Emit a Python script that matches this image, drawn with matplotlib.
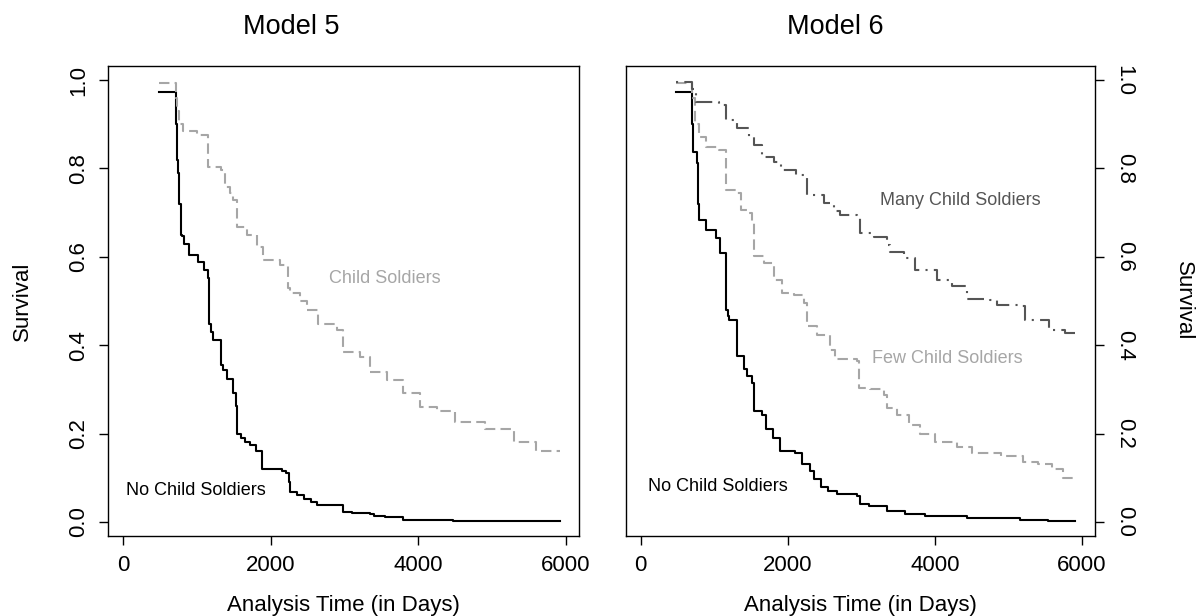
import matplotlib
matplotlib.use("Agg")
import matplotlib.pyplot as plt

plt.rcParams['font.family'] = ['Liberation Sans', 'DejaVu Sans']

# --- data (days, survival) ---
m5_none_t = [484, 714, 722, 740, 760, 785, 792, 823, 895, 1017, 1099, 1153, 1166, 1190,
             1210, 1320, 1356, 1402, 1483, 1528, 1535, 1600, 1650, 1720, 1800, 1880, 2150,
             2200, 2240, 2260, 2350, 2450, 2550, 2622, 2983, 3100, 3345, 3400, 3550, 3797,
             4100, 4475, 5040, 5921]
m5_none_s = [0.974, 0.90, 0.82, 0.79, 0.72, 0.65, 0.647, 0.629, 0.604, 0.589, 0.570, 0.551,
             0.449, 0.43, 0.411, 0.355, 0.344, 0.323, 0.291, 0.262, 0.20, 0.19, 0.18, 0.175,
             0.16, 0.12, 0.115, 0.11, 0.09, 0.068, 0.06, 0.052, 0.045, 0.038, 0.023, 0.021,
             0.017, 0.013, 0.010, 0.005, 0.004, 0.002, 0.001, 0.001]

m5_cs_t = [484, 714, 730, 750, 814, 1000, 1153, 1320, 1380, 1450, 1492, 1537, 1673, 1808,
           1898, 2125, 2237, 2260, 2400, 2487, 2644, 2894, 2983, 3210, 3345, 3571, 3797,
           4023, 4250, 4500, 4900, 5300, 5600, 5921]
m5_cs_s = [0.994, 0.96, 0.93, 0.90, 0.885, 0.876, 0.804, 0.797, 0.759, 0.745, 0.729, 0.668,
           0.650, 0.623, 0.593, 0.582, 0.53, 0.517, 0.50, 0.480, 0.449, 0.434, 0.385, 0.374,
           0.340, 0.321, 0.291, 0.261, 0.251, 0.225, 0.21, 0.18, 0.16, 0.16]

m6_none_t = [476, 702, 710, 761, 785, 792, 889, 1019, 1078, 1155, 1164, 1190, 1200, 1313,
             1403, 1450, 1517, 1540, 1653, 1700, 1800, 1900, 2100, 2200, 2300, 2354, 2450,
             2550, 2672, 2943, 2989, 3100, 3351, 3600, 3872, 4438, 5163, 5543, 5910]
m6_none_s = [0.974, 0.90, 0.838, 0.812, 0.72, 0.684, 0.661, 0.642, 0.608, 0.590, 0.480,
             0.465, 0.458, 0.375, 0.345, 0.33, 0.315, 0.251, 0.243, 0.21, 0.19, 0.16, 0.155,
             0.13, 0.115, 0.096, 0.08, 0.07, 0.063, 0.059, 0.040, 0.035, 0.025, 0.018, 0.014,
             0.008, 0.005, 0.002, 0.002]

m6_few_t = [476, 702, 740, 792, 883, 1065, 1155, 1160, 1313, 1359, 1449, 1517, 1540, 1676,
            1812, 1925, 2083, 2219, 2264, 2400, 2581, 2649, 2943, 2966, 3125, 3306, 3351,
            3487, 3650, 3800, 4000, 4300, 4500, 4900, 5200, 5400, 5600, 5750, 5910]
m6_few_s = [0.993, 0.96, 0.90, 0.872, 0.849, 0.842, 0.83, 0.751, 0.745, 0.706, 0.70, 0.676,
            0.601, 0.586, 0.548, 0.518, 0.514, 0.496, 0.443, 0.424, 0.390, 0.368, 0.364,
            0.304, 0.300, 0.288, 0.258, 0.243, 0.22, 0.20, 0.18, 0.17, 0.155, 0.15, 0.135,
            0.13, 0.12, 0.10, 0.095]

m6_many_t = [476, 702, 747, 1065, 1155, 1160, 1313, 1472, 1540, 1653, 1812, 1902, 2106, 2264,
             2490, 2626, 2717, 2943, 2989, 3170, 3351, 3397, 3578, 3737, 4031, 4235, 4438,
             4755, 4846, 5140, 5231, 5548, 5775, 5932]
m6_many_s = [0.995, 0.98, 0.951, 0.944, 0.932, 0.910, 0.891, 0.872, 0.853, 0.827, 0.815,
             0.797, 0.785, 0.740, 0.721, 0.703, 0.695, 0.691, 0.654, 0.646, 0.627, 0.612,
             0.597, 0.571, 0.548, 0.533, 0.505, 0.503, 0.492, 0.488, 0.458, 0.435, 0.428,
             0.428]

x_ticks = [0, 2000, 4000, 6000]
y_ticks = [0.0, 0.2, 0.4, 0.6, 0.8, 1.0]
y_labels = ["0.0", "0.2", "0.4", "0.6", "0.8", "1.0"]

BLACK = "black"
LIGHT = "#a6a6a6"
DARK = "#555555"
dashed = (0, (5, 2.5))
dotdash = (0, (1, 3, 8, 3))

fig = plt.figure(figsize=(11.96, 6.16), dpi=100)
W, H = 1196.0, 616.0
ax1 = fig.add_axes([108.3 / W, 1 - 536 / H, (579 - 108.3) / W, (536 - 66) / H])
ax2 = fig.add_axes([625.7 / W, 1 - 536 / H, (1095 - 625.7) / W, (536 - 66) / H])

for ax in (ax1, ax2):
    ax.set_xlim(-205, 6180)
    ax.set_ylim(-0.032, 1.032)
    ax.set_xticks(x_ticks)
    ax.set_yticks(y_ticks)
    ax.set_yticklabels(y_labels)
    ax.tick_params(direction='out', length=6.5, width=1, labelsize=16, pad=7, color='black')
    for s in ax.spines.values():
        s.set_color('black')
        s.set_linewidth(1.0)
    ax.set_xlabel("Analysis Time (in Days)", fontsize=16, labelpad=14)

# Model 5
ax1.step(m5_none_t, m5_none_s, where='post', color=BLACK, lw=1.5)
ax1.step(m5_cs_t, m5_cs_s, where='post', color=LIGHT, lw=1.5, linestyle=dashed)
ax1.text(986, 0.072, "No Child Soldiers", fontsize=13, color=BLACK, ha='center', va='center')
ax1.text(3549, 0.552, "Child Soldiers", fontsize=13, color=LIGHT, ha='center', va='center')
ax1.tick_params(axis='y', labelrotation=90)
for t in ax1.get_yticklabels():
    t.set_va('center')
ax1.set_ylabel("Survival", fontsize=16, va='center', ha='center')
ax1.yaxis.set_label_coords(-0.183, 0.5)

# Model 6
ax2.step(m6_none_t, m6_none_s, where='post', color=BLACK, lw=1.5)
ax2.step(m6_few_t, m6_few_s, where='post', color=LIGHT, lw=1.5, linestyle=dashed)
ax2.step(m6_many_t, m6_many_s, where='post', color=DARK, lw=1.5, linestyle=dotdash)
ax2.text(1046, 0.081, "No Child Soldiers", fontsize=13, color=BLACK, ha='center', va='center')
ax2.text(4171, 0.370, "Few Child Soldiers", fontsize=13, color=LIGHT, ha='center', va='center')
ax2.text(4348, 0.727, "Many Child Soldiers", fontsize=13, color=DARK, ha='center', va='center')
ax2.yaxis.tick_right()
ax2.yaxis.set_label_position('right')
ax2.tick_params(axis='y', labelrotation=-90)
for t in ax2.get_yticklabels():
    t.set_va('center')
ax2.set_ylabel("Survival", fontsize=16, rotation=-90, va='center', ha='center')
ax2.yaxis.set_label_coords(1.1875, 0.5)

fig.text(291 / W, 1 - 27 / H, "Model 5", fontsize=19.5, ha='center', va='center')
fig.text(835 / W, 1 - 27 / H, "Model 6", fontsize=19.5, ha='center', va='center')

fig.savefig("out.png", dpi=100)
